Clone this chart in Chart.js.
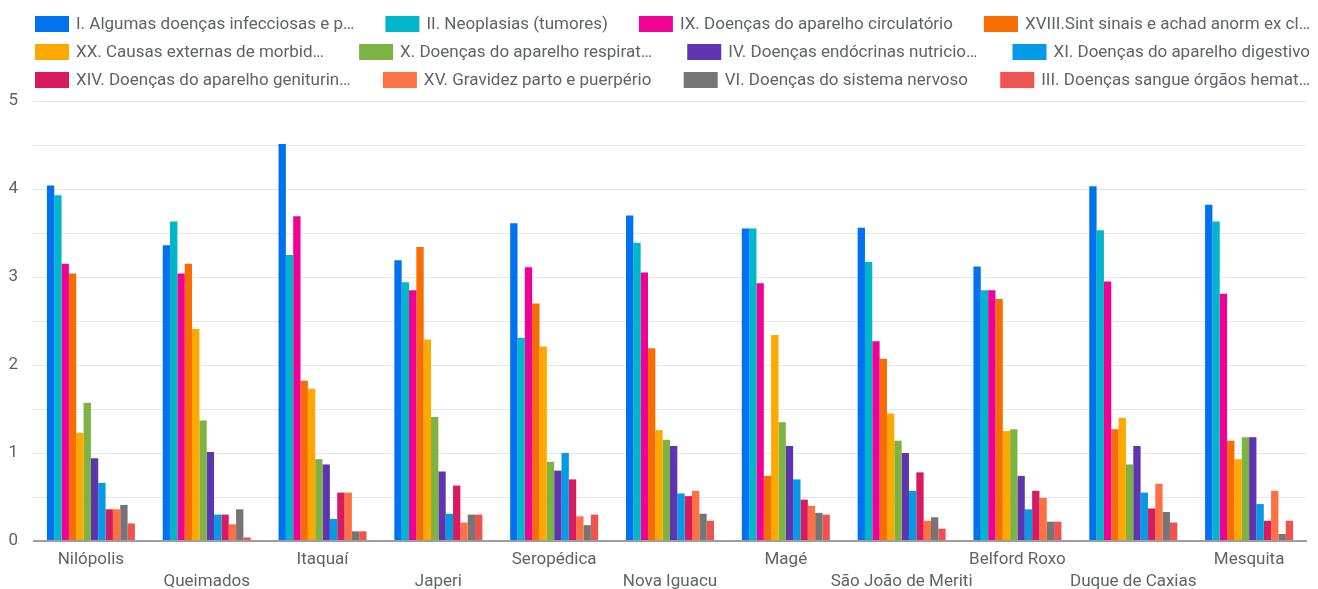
<!DOCTYPE html>
<html>
<head>
<meta charset="utf-8">
<script src="https://cdn.jsdelivr.net/npm/chart.js@4"></script>
<style>
  html, body { margin: 0; padding: 0; background: #fff; }
  #wrap { width: 1318px; height: 589px; position: relative; }
</style>
</head>
<body>
<div id="wrap"><canvas id="c"></canvas></div>
<script>
// Municipalities (x categories)
const municipios = ['Nilópolis', 'Queimados', 'Itaquaí', 'Japeri', 'Seropédica', 'Nova Iguacu',
  'Magé', 'São João de Meriti', 'Belford Roxo', 'Duque de Caxias', 'Mesquita'];

// Chapter names as shown in the legend
const capitulos = [
  'I. Algumas doenças infecciosas e p…',
  'II. Neoplasias (tumores)',
  'IX. Doenças do aparelho circulatório',
  'XVIII.Sint sinais e achad anorm ex cl…',
  'XX. Causas externas de morbid…',
  'X. Doenças do aparelho respirat…',
  'IV. Doenças endócrinas nutricio…',
  'XI. Doenças do aparelho digestivo',
  'XIV. Doenças do aparelho geniturin…',
  'XV. Gravidez parto e puerpério',
  'VI. Doenças do sistema nervoso',
  'III. Doenças sangue órgãos hemat…'
];

// Values per chapter, one per municipality
const capI     = [4.04, 3.36, 4.51, 3.19, 3.61, 3.70, 3.55, 3.56, 3.12, 4.03, 3.82];
const capII    = [3.93, 3.63, 3.25, 2.94, 2.31, 3.39, 3.55, 3.17, 2.85, 3.53, 3.63];
const capIX    = [3.15, 3.04, 3.69, 2.85, 3.11, 3.05, 2.93, 2.27, 2.85, 2.95, 2.81];
const capXVIII = [3.04, 3.15, 1.82, 3.34, 2.70, 2.19, 0.74, 2.07, 2.75, 1.27, 1.14];
const capXX    = [1.23, 2.41, 1.73, 2.29, 2.21, 1.26, 2.34, 1.45, 1.25, 1.40, 0.93];
const capX     = [1.57, 1.37, 0.93, 1.41, 0.90, 1.15, 1.35, 1.14, 1.27, 0.87, 1.18];
const capIV    = [0.94, 1.01, 0.87, 0.79, 0.80, 1.08, 1.08, 1.00, 0.74, 1.08, 1.18];
const capXI    = [0.66, 0.30, 0.25, 0.31, 1.00, 0.54, 0.70, 0.57, 0.36, 0.55, 0.42];
const capXIV   = [0.36, 0.30, 0.55, 0.63, 0.70, 0.51, 0.47, 0.78, 0.57, 0.37, 0.23];
const capXV    = [0.36, 0.19, 0.55, 0.21, 0.28, 0.57, 0.40, 0.23, 0.49, 0.65, 0.57];
const capVI    = [0.41, 0.36, 0.11, 0.30, 0.18, 0.31, 0.32, 0.27, 0.22, 0.33, 0.08];
const capIII   = [0.20, 0.04, 0.11, 0.30, 0.30, 0.23, 0.30, 0.14, 0.22, 0.21, 0.23];

const series = [capI, capII, capIX, capXVIII, capXX, capX, capIV, capXI, capXIV, capXV, capVI, capIII];

// Y tick labels (integers only; half steps get gridlines without text)
const yTicks = [0, 1, 2, 3, 4, 5];

const palette = ['#0072f0', '#00b6cb', '#f10096', '#f66d00', '#ffa800', '#7cb342',
  '#5e35b1', '#039be5', '#d81b60', '#ff7043', '#757575', '#ef5350'];

const FONT = 'Roboto, "Noto Sans", sans-serif';

// Legend drawn as justified rows across the top
const rowLegend = {
  id: 'rowLegend',
  afterDraw(chart) {
    const ctx = chart.ctx;
    const left = 35, right = chart.width - 8;
    const boxW = 34, boxH = 16, gapText = 7, minGap = 20;
    const rowY = [24, 52, 80];
    ctx.save();
    ctx.font = '17px ' + FONT;
    ctx.textBaseline = 'middle';
    const items = chart.data.datasets.map((ds) => ({
      text: ds.label, color: ds.backgroundColor,
      w: boxW + gapText + ctx.measureText(ds.label).width
    }));
    const rows = [[]];
    let cur = 0;
    items.forEach((it) => {
      const r = rows[rows.length - 1];
      if (r.length && cur + minGap + it.w > right - left) { rows.push([it]); cur = it.w; }
      else { cur += (r.length ? minGap : 0) + it.w; r.push(it); }
    });
    rows.forEach((r, ri) => {
      const total = r.reduce((s, it) => s + it.w, 0);
      const gap = r.length > 1 ? (right - left - total) / (r.length - 1) : 0;
      let x = left;
      const y = rowY[ri] !== undefined ? rowY[ri] : 24 + ri * 28;
      r.forEach((it) => {
        ctx.fillStyle = it.color;
        ctx.fillRect(x, y - boxH / 2, boxW, boxH);
        ctx.fillStyle = '#5f6368';
        ctx.fillText(it.text, x + boxW + gapText, y + 1);
        x += it.w + gap;
      });
    });
    ctx.restore();
  }
};

new Chart(document.getElementById('c'), {
  type: 'bar',
  data: {
    labels: municipios,
    datasets: series.map((vals, i) => ({
      label: capitulos[i],
      data: vals,
      backgroundColor: palette[i],
      borderWidth: 0,
      categoryPercentage: 0.76,
      barPercentage: 1.0
    }))
  },
  options: {
    responsive: true,
    maintainAspectRatio: false,
    animation: false,
    layout: { padding: { top: 101, left: 0, right: 11, bottom: 0 } },
    plugins: { legend: { display: false }, tooltip: { enabled: false } },
    scales: {
      x: {
        afterFit(scale) { scale.height = 48; },
        grid: { display: false, drawTicks: false },
        border: { display: false },
        ticks: {
          autoSkip: false,
          maxRotation: 0,
          padding: 8,
          color: '#5f6368',
          font: { family: FONT, size: 17, lineHeight: 1.3 },
          callback(value, index) {
            const name = municipios[index];
            return index % 2 === 1 ? ['', name] : name;
          }
        }
      },
      y: {
        min: 0,
        max: 5,
        afterFit(scale) { scale.width = 33; },
        border: { display: false },
        grid: {
          drawTicks: false,
          color: (c) => (c.tick && c.tick.value === 0 ? '#9e9e9e' : '#e6e6e6'),
          lineWidth: (c) => (c.tick && c.tick.value === 0 ? 2 : 1)
        },
        ticks: {
          stepSize: 0.5,
          autoSkip: false,
          padding: 15,
          color: '#5f6368',
          font: { family: FONT, size: 17 },
          callback: (v) => (yTicks.includes(v) ? String(v) : '')
        }
      }
    }
  },
  plugins: [rowLegend]
});
</script>
</body>
</html>
